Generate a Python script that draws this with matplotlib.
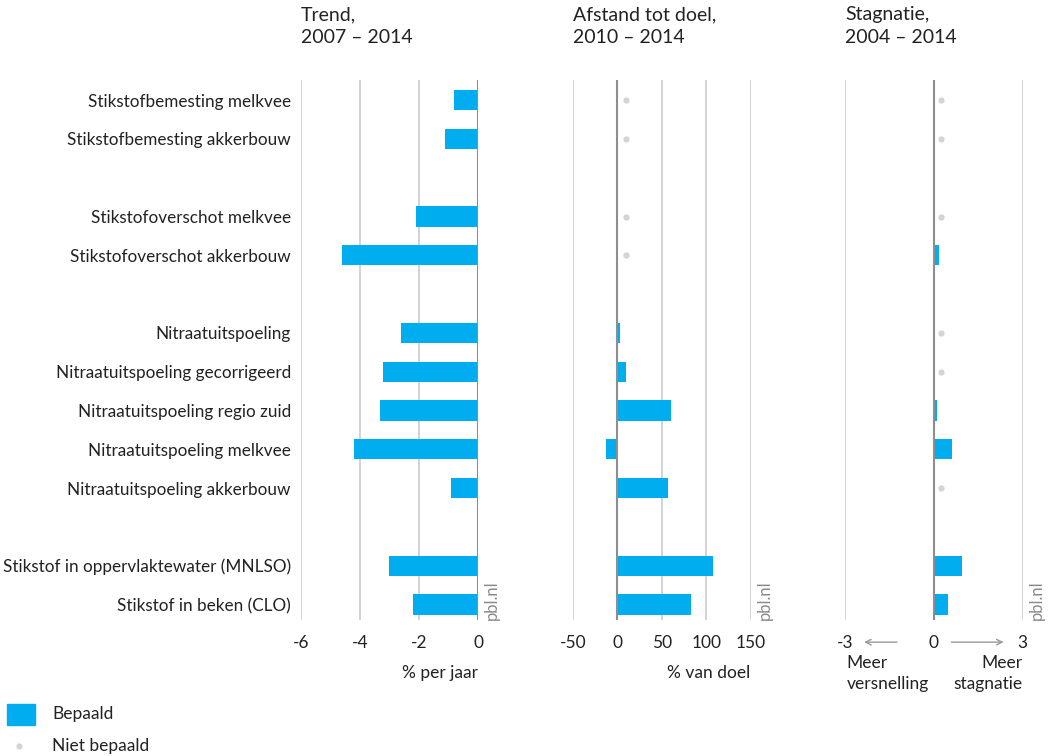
import numpy as np
import matplotlib
matplotlib.use("Agg")
import matplotlib.pyplot as plt
from matplotlib.patches import Rectangle
from matplotlib.lines import Line2D
from matplotlib.transforms import blended_transform_factory, offset_copy

plt.rcParams['font.family'] = ['Lato', 'DejaVu Sans']

# data
categories = ['Stikstofbemesting melkvee', 'Stikstofbemesting akkerbouw',
              'Stikstofoverschot melkvee', 'Stikstofoverschot akkerbouw',
              'Nitraatuitspoeling', 'Nitraatuitspoeling gecorrigeerd',
              'Nitraatuitspoeling regio zuid', 'Nitraatuitspoeling melkvee',
              'Nitraatuitspoeling akkerbouw',
              'Stikstof in oppervlaktewater (MNLSO)', 'Stikstof in beken (CLO)']
group_sizes = [2, 2, 5, 2]
nan = np.nan
trend = [-0.8, -1.1, -2.1, -4.6, -2.6, -3.2, -3.3, -4.2, -0.9, -3.0, -2.2]
afstand = [nan, nan, nan, nan, 3, 10, 60, -13, 57, 108, 83]
stagnatie = [nan, nan, nan, 0.17, nan, nan, 0.1, 0.62, nan, 0.95, 0.47]

titles = ['Trend,\n2007 – 2014', 'Afstand tot doel,\n2010 – 2014', 'Stagnatie,\n2004 – 2014']
xlabels = ['% per jaar', '% van doel', '']
xticks = [[-6, -4, -2, 0], [-50, 0, 50, 100, 150], [-3, 0, 3]]
xlims = [(-6, 0), (-50, 150), (-3, 3)]
notset_pos = [None, 10, 0.25]   # where the "niet bepaald" dot sits

BLUE = '#00aeef'
DOT = '#d3d3d8'
GRID = '#d2d2d2'
ZERO = '#8e8e8e'
TXT = '#222222'

# row positions with an empty row between groups
ypos = []
r = 0
for g in group_sizes:
    ypos += list(range(r, r + g))
    r += g + 1
ypos = np.array(ypos)

W, H = 1050, 756
fig = plt.figure(figsize=(W / 100, H / 100), dpi=100)

panels = [(300.7, 478.0), (572.7, 750.7), (845.0, 1022.7)]
top, bottom = 80, 620
series = [trend, afstand, stagnatie]

axes = []
for i, (x0, x1) in enumerate(panels):
    ax = fig.add_axes([x0 / W, 1 - bottom / H, (x1 - x0) / W, (bottom - top) / H])
    axes.append(ax)
    vals = np.array(series[i], dtype=float)
    ok = ~np.isnan(vals)
    ax.barh(ypos[ok], vals[ok], height=0.52, color=BLUE, zorder=3)
    if notset_pos[i] is not None:
        ax.plot(np.full((~ok).sum(), notset_pos[i]), ypos[~ok], 'o', ms=4.5,
                color=DOT, mec='none', zorder=3)
    ax.set_xlim(*xlims[i])
    ax.set_ylim(13.4, -0.52)
    ax.set_xticks(xticks[i])
    ax.set_xticklabels([str(t) for t in xticks[i]], fontsize=12.5, color=TXT)
    ax.grid(axis='x', color=GRID, lw=1.4, zorder=0)
    ax.axvline(0, color=ZERO, lw=1.5, zorder=4)
    for s in ax.spines.values():
        s.set_visible(False)
    ax.tick_params(axis='x', length=0, pad=11)
    if i == 0:
        ax.set_yticks(ypos)
        ax.set_yticklabels(categories, fontsize=12.3, color=TXT)
        ax.tick_params(axis='y', length=0, pad=7)
    else:
        ax.set_yticks([])
    if xlabels[i]:
        ax.set_xlabel(xlabels[i], loc='right', fontsize=12.5, color=TXT, labelpad=10)
    fig.text(x0 / W, 1 - 6 / H, titles[i], ha='left', va='top', fontsize=14,
             color=TXT, linespacing=1.45)
    ax.text(1.0, 0.0, 'pbl.nl', rotation=90, ha='left', va='bottom',
            fontsize=12, color='#8a8a8a',
            transform=offset_copy(ax.transAxes, fig=fig, x=6, y=0, units='dots'))

# stagnation axis arrows and captions
ax3 = axes[2]
tr = blended_transform_factory(ax3.transData, ax3.transAxes)
ax3.annotate('', xy=(-2.45, -0.041), xytext=(-1.15, -0.041), xycoords=tr,
             textcoords=tr, arrowprops=dict(arrowstyle='->', color='#9a9a9a', lw=1))
ax3.annotate('', xy=(2.45, -0.041), xytext=(0.5, -0.041), xycoords=tr,
             textcoords=tr, arrowprops=dict(arrowstyle='->', color='#9a9a9a', lw=1))
ax3.text(-2.95, -0.065, 'Meer\nversnelling', transform=tr, ha='left', va='top',
         fontsize=12.5, color=TXT, linespacing=1.4)
ax3.text(3.0, -0.065, 'Meer\nstagnatie', transform=tr, ha='right', va='top',
         fontsize=12.5, color=TXT, multialignment='right', linespacing=1.4)

# legend
fig.add_artist(Rectangle((7 / W, 1 - 725 / H), 28 / W, 21 / H, color=BLUE,
                         transform=fig.transFigure))
fig.add_artist(Line2D([19 / W], [1 - 746 / H], marker='o', ms=4.5, color=DOT,
                      mec='none', transform=fig.transFigure))
fig.text(52 / W, 1 - 714 / H, 'Bepaald', va='center', fontsize=12.5, color=TXT)
fig.text(52 / W, 1 - 746 / H, 'Niet bepaald', va='center', fontsize=12.5, color=TXT)

fig.savefig('out.png', dpi=100)
